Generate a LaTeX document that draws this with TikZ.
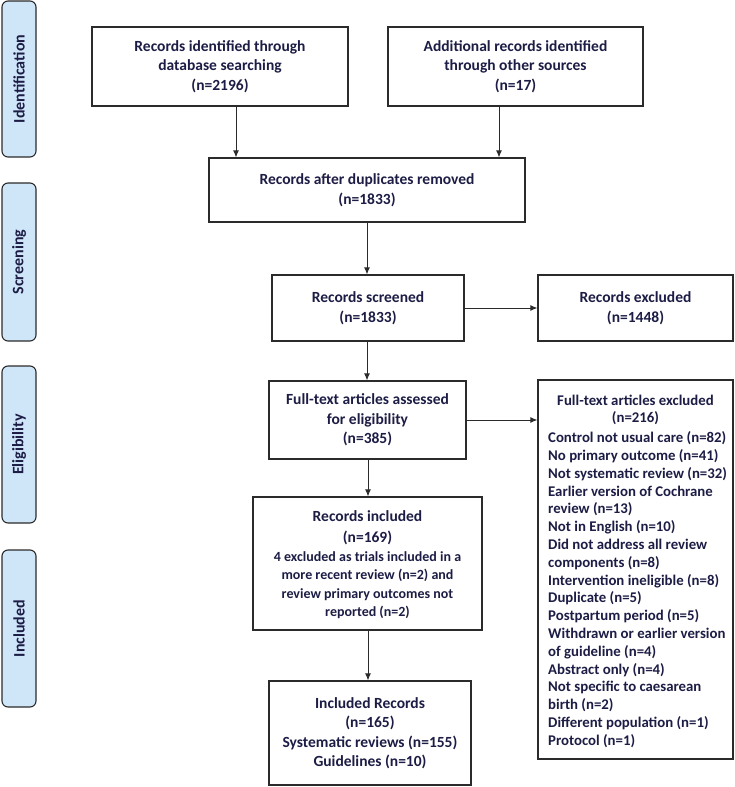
\documentclass[tikz,border=0pt]{standalone}
\usepackage{fontspec}
\setmainfont{Carlito}
\usetikzlibrary{arrows.meta}
\definecolor{txt}{HTML}{1C1C45}
\definecolor{lin}{HTML}{2B2B2B}
\definecolor{side}{HTML}{CFE6F8}
\tikzset{
  box/.style={draw=lin, line width=1.1pt, inner sep=0pt, text=txt, font=\bfseries\fontsize{15.5}{19.5}\selectfont, align=center},
  label/.style={draw=none, inner sep=0pt, text=txt, align=center},
  sidebox/.style={draw=lin, line width=1.1pt, fill=side, rounded corners=6pt},
  sidetext/.style={text=txt, font=\bfseries\fontsize{16}{18}\selectfont, rotate=90},
  arr/.style={draw=lin, line width=1pt, -{Latex[length=7pt,width=6pt]}},
  big/.style={font=\bfseries\fontsize{15.5}{21}\selectfont},
  small/.style={font=\bfseries\fontsize{14}{18.5}\selectfont},
  list/.style={font=\bfseries\fontsize{14.8}{17.8}\selectfont}
}
\begin{document}
\begin{tikzpicture}[x=1pt,y=-1pt]
\useasboundingbox (0,0) rectangle (734,787);
% side labels
\foreach \n/\a/\b/\t in {sidA/1/157/Identification, sidB/183/341/Screening, sidC/366/523/Eligibility, sidD/550/707/Included}{
  \draw[sidebox] (2,\a) rectangle (36,\b);
  \node[sidetext] (\n) at (19,{(\a+\b)/2}) {\t};
}
% boxes
\node[box, minimum width=256pt, minimum height=79pt] (b1) at (220,66.5) {Records identified through\\database searching\\(n=2196)};
\node[box, minimum width=255pt, minimum height=79pt] (b2) at (515.5,66.5) {Additional records identified\\through other sources\\(n=17)};
\node[box, minimum width=316pt, minimum height=64pt] (b3) at (367,190) {Records after duplicates removed\\(n=1833)};
\node[box, minimum width=192pt, minimum height=66pt] (b4) at (368,308) {Records screened\\(n=1833)};
\node[box, minimum width=195pt, minimum height=66pt] (b5) at (635.5,308) {Records excluded\\(n=1448)};
\node[box, minimum width=197pt, minimum height=78pt] (b6) at (367.5,420) {Full-text articles assessed\\for eligibility\\(n=385)};
\node[box, minimum width=229pt, minimum height=133pt] (b8) at (367.5,563.5) {};
\node[label, big, anchor=north] (b8h) at (367.5,510.5) {Records included\\(n=169)};
\node[label, small, anchor=north] (b8t) at (367.5,551) {4 excluded as trials included in a\\more recent review (n=2) and\\review primary outcomes not\\reported (n=2)};
\node[box, minimum width=202pt, minimum height=104pt] (b9) at (370,733) {Included Records\\(n=165)\\Systematic reviews (n=155)\\Guidelines (n=10)};
\node[box, minimum width=195pt, minimum height=379pt] (b7) at (635.5,569.5) {};
\node[label, list, anchor=north] (b7h) at (635.5,394.5) {Full-text articles excluded\\(n=216)};
\node[label, list, anchor=north west, align=left] (b7t) at (548,431.5) {Control not usual care (n=82)\\No primary outcome (n=41)\\Not systematic review (n=32)\\Earlier version of Cochrane\\review (n=13)\\Not in English (n=10)\\Did not address all review\\components (n=8)\\Intervention ineligible (n=8)\\Duplicate (n=5)\\Postpartum period (n=5)\\Withdrawn or earlier version\\of guideline (n=4)\\Abstract only (n=4)\\Not specific to caesarean\\birth (n=2)\\Different population (n=1)\\Protocol (n=1)};
% arrows
\draw[arr] (b1.south -| 236,0) -- (b3.north -| 236,0);
\draw[arr] (b2.south -| 499,0) -- (b3.north -| 499,0);
\draw[arr] (b3.south -| 367,0) -- (b4.north -| 367,0);
\draw[arr] (b4.east) -- (b5.west);
\draw[arr] (b4.south -| 367,0) -- (b6.north -| 367,0);
\draw[arr] (b6.east) -- (b7.west |- b6.east);
\draw[arr] (b6.south -| 368,0) -- (b8.north -| 368,0);
\draw[arr] (b8.south -| 368,0) -- (b9.north -| 368,0);
\end{tikzpicture}
\end{document}
